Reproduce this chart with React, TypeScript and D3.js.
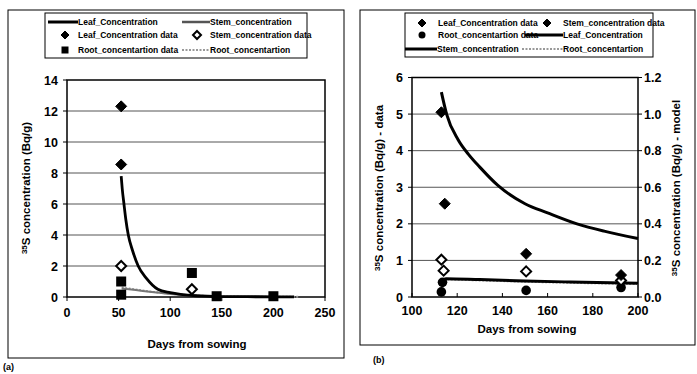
import React from "react";
import * as d3 from "d3";

// ---------- Panel (a) data ----------
const aXTicks = [0, 50, 100, 150, 200, 250];
const aYTicks = [0, 2, 4, 6, 8, 10, 12, 14];
const aLeafDataDays = [52.5, 52.5];
const aLeafDataVals = [12.3, 8.55];
const aStemDataDays = [52.5, 121];
const aStemDataVals = [2.0, 0.5];
const aRootDataDays = [52.5, 52.5, 121, 145, 200];
const aRootDataVals = [1.0, 0.15, 1.55, 0.05, 0.05];
const aLeafModelDays = [52.5, 53.5, 55.2, 57, 59.4, 63.5, 69, 77, 88, 100, 110, 125, 150, 175, 200, 220];
const aLeafModelVals = [7.8, 7.0, 6.0, 5.0, 4.0, 3.0, 2.0, 1.2, 0.5, 0.28, 0.17, 0.08, 0.03, 0.02, 0.01, 0.01];
const aStemModelDays = [53, 60, 70, 80, 90, 100, 110, 120, 130, 145, 170, 200];
const aStemModelVals = [0.55, 0.5, 0.42, 0.34, 0.27, 0.2, 0.14, 0.09, 0.05, 0.02, 0.01, 0.01];
const aRootModelDays = [53, 60, 75, 90, 110, 130, 150, 175, 200, 225];
const aRootModelVals = [0.62, 0.55, 0.4, 0.28, 0.16, 0.08, 0.04, 0.02, 0.01, 0.01];

// ---------- Panel (b) data ----------
const bXTicks = [100, 120, 140, 160, 180, 200];
const bYTicksLeft = [0, 1, 2, 3, 4, 5, 6];
const bYTicksRight = [0, 0.2, 0.4, 0.6, 0.8, 1.0, 1.2];
const bLeafDataDays = [113, 114.5, 150.5, 192.5];
const bLeafDataVals = [5.05, 2.55, 1.18, 0.6];
const bStemDataDays = [113, 114, 150.5, 192.5];
const bStemDataVals = [1.02, 0.72, 0.7, 0.45];
const bRootDataDays = [113, 113.5, 150.5, 192.5];
const bRootDataVals = [0.14, 0.4, 0.18, 0.26];
const bLeafModelDays = [113, 115.3, 120.4, 125, 130, 138, 150, 160, 173, 185, 200];
const bLeafModelVals = [1.12, 1.0, 0.86, 0.78, 0.71, 0.61, 0.51, 0.46, 0.4, 0.36, 0.32];
const bStemModelDays = [112, 115, 130, 150, 170, 200];
const bStemModelVals = [0.07, 0.1, 0.095, 0.088, 0.082, 0.075];
const bRootModelDays = [112, 115, 130, 150, 170, 200];
const bRootModelVals = [0.065, 0.097, 0.092, 0.085, 0.079, 0.072];

const FONT = "'Liberation Sans', Arial, sans-serif";

const zip = (xs: number[], ys: number[]) => xs.map((x, i) => [x, ys[i]] as [number, number]);

const Diamond = ({ x, y, r = 5.5, fill = "#000" }: any) => (
  <path
    d={`M${x},${y - r}L${x + r},${y}L${x},${y + r}L${x - r},${y}Z`}
    fill={fill}
    stroke="#000"
    strokeWidth={fill === "#fff" ? 2 : 1}
  />
);
const Square = ({ x, y, s = 10 }: any) => (
  <rect x={x - s / 2} y={y - s / 2} width={s} height={s} fill="#000" />
);
const Dot = ({ x, y, r = 4.8 }: any) => <circle cx={x} cy={y} r={r} fill="#000" />;

const YTitle = ({ x, y, suffix, rot = -90 }: any) => (
  <text
    transform={`translate(${x},${y}) rotate(${rot})`}
    textAnchor="middle"
    fontFamily={FONT}
    fontWeight="bold"
    fontSize={11.5}
  >
    <tspan fontSize={8} dy={-3}>35</tspan>
    <tspan dy={3}>{`S concentration (Bq/g)${suffix}`}</tspan>
  </text>
);

function PanelA() {
  const x = d3.scaleLinear().domain([0, 250]).range([67, 325]);
  const y = d3.scaleLinear().domain([0, 14]).range([297, 80]);
  const line = d3
    .line<[number, number]>()
    .x((d) => x(d[0]))
    .y((d) => y(d[1]))
    .curve(d3.curveMonotoneX);
  return (
    <g>
      <rect x={8} y={10} width={336} height={348} fill="none" stroke="#000" strokeWidth={1} />
      <rect x={45} y={13} width={262} height={45} fill="#fff" stroke="#000" strokeWidth={1} />
      <g fontFamily={FONT} fontSize={8.5} fontWeight="bold">
        <line x1={48} x2={78} y1={22} y2={22} stroke="#000" strokeWidth={3} />
        <text x={78} y={25}>Leaf_Concentration</text>
        <line x1={182} x2={210} y1={22} y2={22} stroke="#555" strokeWidth={2.5} />
        <text x={210} y={25}>Stem_concentration</text>
        <Diamond x={65} y={35} r={4} />
        <text x={78} y={38}>Leaf_Concentration data</text>
        <Diamond x={197} y={35} r={4} fill="#fff" />
        <text x={210} y={38}>Stem_concentration data</text>
        <Square x={65} y={50} s={7} />
        <text x={78} y={53}>Root_concentartion data</text>
        <line x1={182} x2={210} y1={50} y2={50} stroke="#999" strokeWidth={2} strokeDasharray="2,1.5" />
        <text x={210} y={53}>Root_concentartion</text>
      </g>
      {aYTicks.slice(1, -1).map((t) => (
        <line key={t} x1={67} x2={325} y1={y(t)} y2={y(t)} stroke="#555" strokeWidth={1} />
      ))}
      <rect x={67} y={80} width={258} height={217} fill="none" stroke="#000" strokeWidth={1.5} />
      <g fontFamily={FONT} fontWeight="bold" fontSize={12.5}>
        {aYTicks.map((t) => (
          <g key={t}>
            <line x1={63} x2={67} y1={y(t)} y2={y(t)} stroke="#000" />
            <text x={58} y={y(t) + 4.5} textAnchor="end">{t}</text>
          </g>
        ))}
        {aXTicks.map((t) => (
          <g key={t}>
            <line x1={x(t)} x2={x(t)} y1={297} y2={301} stroke="#000" />
            <text x={x(t)} y={317} textAnchor="middle">{t}</text>
          </g>
        ))}
        <text x={197} y={348} textAnchor="middle" fontSize={11.5}>Days from sowing</text>
      </g>
      <YTitle x={30} y={188} suffix="" />
      <path d={line(zip(aRootModelDays, aRootModelVals)) || ""} fill="none" stroke="#999" strokeWidth={2} strokeDasharray="2,1.5" />
      <path d={line(zip(aStemModelDays, aStemModelVals)) || ""} fill="none" stroke="#777" strokeWidth={2} />
      <path d={line(zip(aLeafModelDays, aLeafModelVals)) || ""} fill="none" stroke="#000" strokeWidth={2.8} />
      {aRootDataDays.map((d, i) => (
        <Square key={"r" + i} x={x(d)} y={y(aRootDataVals[i])} />
      ))}
      {aLeafDataDays.map((d, i) => (
        <Diamond key={"l" + i} x={x(d)} y={y(aLeafDataVals[i])} />
      ))}
      {aStemDataDays.map((d, i) => (
        <Diamond key={"s" + i} x={x(d)} y={y(aStemDataVals[i])} fill="#fff" r={5} />
      ))}
      <text x={3} y={370} fontFamily={FONT} fontSize={9} fontWeight="bold">(a)</text>
    </g>
  );
}

function PanelB() {
  const x = d3.scaleLinear().domain([100, 200]).range([412, 638]);
  const yL = d3.scaleLinear().domain([0, 6]).range([297, 77.5]);
  const yR = d3.scaleLinear().domain([0, 1.2]).range([297, 77.5]);
  const lineR = d3
    .line<[number, number]>()
    .x((d) => x(d[0]))
    .y((d) => yR(d[1]))
    .curve(d3.curveMonotoneX);
  return (
    <g>
      <rect x={360} y={10} width={335} height={335} fill="none" stroke="#000" strokeWidth={1} />
      <rect x={405} y={13} width={248} height={44} fill="#fff" stroke="#000" strokeWidth={1} />
      <g fontFamily={FONT} fontSize={8.5} fontWeight="bold">
        <Diamond x={422} y={23} r={4} />
        <text x={438} y={26}>Leaf_Concentration data</text>
        <Diamond x={547} y={23} r={4} />
        <text x={563} y={26}>Stem_concentration data</text>
        <Dot x={422} y={35} r={3.5} />
        <text x={438} y={38}>Root_concentartion data</text>
        <line x1={525} x2={563} y1={35} y2={35} stroke="#000" strokeWidth={3} />
        <text x={563} y={38}>Leaf_Concentration</text>
        <line x1={405} x2={437} y1={49} y2={49} stroke="#000" strokeWidth={3} />
        <text x={437} y={52}>Stem_concentration</text>
        <line x1={522} x2={563} y1={49} y2={49} stroke="#999" strokeWidth={2} strokeDasharray="2,1.5" />
        <text x={563} y={52}>Root_concentartion</text>
      </g>
      {bYTicksLeft.slice(1, -1).map((t) => (
        <line key={t} x1={412} x2={638} y1={yL(t)} y2={yL(t)} stroke="#555" strokeWidth={1} />
      ))}
      <rect x={412} y={77.5} width={226} height={219.5} fill="none" stroke="#000" strokeWidth={1.5} />
      <g fontFamily={FONT} fontWeight="bold" fontSize={12.5}>
        {bYTicksLeft.map((t) => (
          <g key={t}>
            <line x1={408} x2={412} y1={yL(t)} y2={yL(t)} stroke="#000" />
            <text x={403} y={yL(t) + 4.5} textAnchor="end">{t}</text>
          </g>
        ))}
        {bYTicksRight.map((t) => (
          <g key={t}>
            <line x1={638} x2={642} y1={yR(t)} y2={yR(t)} stroke="#000" />
            <text x={644} y={yR(t) + 4.5} textAnchor="start">{d3.format(".1f")(t)}</text>
          </g>
        ))}
        {bXTicks.map((t) => (
          <g key={t}>
            <line x1={x(t)} x2={x(t)} y1={293} y2={297} stroke="#000" />
            <text x={x(t)} y={315} textAnchor="middle">{t}</text>
          </g>
        ))}
        <text x={527} y={333} textAnchor="middle" fontSize={11.5}>Days from sowing</text>
      </g>
      <YTitle x={383} y={188} suffix=" - data" />
      <YTitle x={680} y={188} suffix=" - model" />
      <path d={lineR(zip(bRootModelDays, bRootModelVals)) || ""} fill="none" stroke="#999" strokeWidth={2.5} strokeDasharray="2,1.5" />
      <path d={lineR(zip(bStemModelDays, bStemModelVals)) || ""} fill="none" stroke="#000" strokeWidth={3} />
      <path d={lineR(zip(bLeafModelDays, bLeafModelVals)) || ""} fill="none" stroke="#000" strokeWidth={3} />
      {bRootDataDays.map((d, i) => (
        <Dot key={"r" + i} x={x(d)} y={yL(bRootDataVals[i])} />
      ))}
      {bStemDataDays.map((d, i) => (
        <Diamond key={"s" + i} x={x(d)} y={yL(bStemDataVals[i])} fill="#fff" r={5} />
      ))}
      {bLeafDataDays.map((d, i) => (
        <Diamond key={"l" + i} x={x(d)} y={yL(bLeafDataVals[i])} />
      ))}
      <text x={373} y={363} fontFamily={FONT} fontSize={9} fontWeight="bold">(b)</text>
    </g>
  );
}

export default function App() {
  return (
    <svg width={697} height={374} style={{ position: "absolute", left: 0, top: 0, background: "#fff" }}>
      <rect width={697} height={374} fill="#fff" />
      <PanelA />
      <PanelB />
    </svg>
  );
}
